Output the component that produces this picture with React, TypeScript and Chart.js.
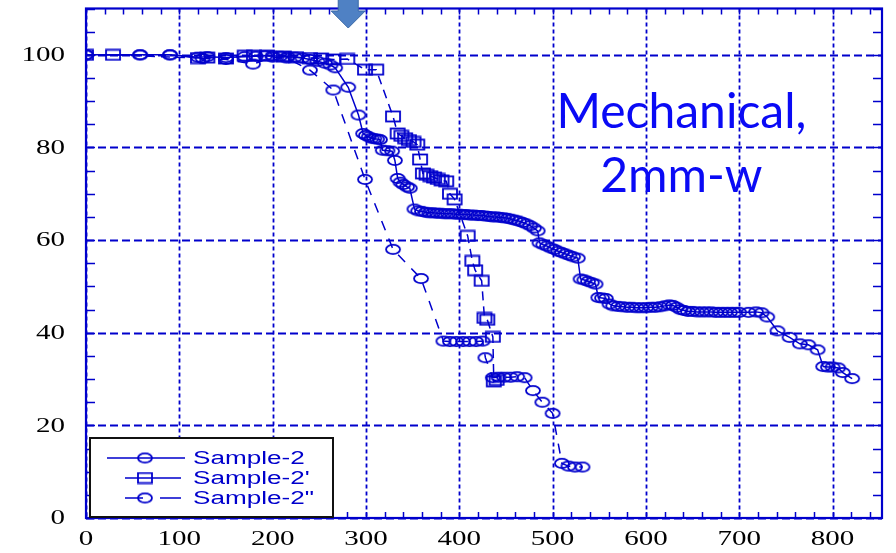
import React, { useEffect, useRef } from "react";
import { Chart, registerables } from "chart.js";
Chart.register(...registerables);

const X_TICKS = [0, 100, 200, 300, 400, 500, 600, 700, 800];
const Y_TICKS = [0, 20, 40, 60, 80, 100];
const X_MAX = 853;
const Y_MAX = 110;
const SERIES_NAMES = ["Sample-2", "Sample-2'", 'Sample-2"'];
const TITLE_LINES = ["Mechanical,", "2mm-w"];
const ARROW_X = 281;

const SAMPLE_2: [number, number][] = [
  [0, 100], [58, 100], [90, 100], [120, 99.5], [130, 99.6], [150, 99.4], [170, 99.6], [182, 99.7],
  [192, 99.8], [200, 99.8], [208, 99.7], [216, 99.6], [224, 99.5], [232, 99.3], [240, 99], [248, 98.6],
  [256, 98.2], [262, 97.8], [267, 97.2], [281, 93], [292, 87], [297, 83], [300, 82.6], [303, 82.3],
  [306, 82], [309, 81.9], [312, 81.8], [315, 81.7], [318, 79.4], [323, 79.3], [328, 79.2], [331, 77.2],
  [334, 73.3], [337, 72.5], [340, 72], [344, 71.5], [347, 71.2], [352, 66.7], [356, 66.3], [360, 66.2],
  [364, 66], [368, 65.9], [372, 65.9], [376, 65.8], [380, 65.8], [384, 65.7], [388, 65.7], [392, 65.7],
  [396, 65.6], [400, 65.6], [404, 65.5], [408, 65.5], [412, 65.4], [416, 65.4], [420, 65.3], [424, 65.3],
  [428, 65.2], [432, 65.1], [436, 65], [440, 65], [444, 64.9], [448, 64.8], [452, 64.7], [456, 64.5],
  [460, 64.3], [464, 64.1], [468, 63.8], [472, 63.5], [476, 63.1], [480, 62.6], [484, 62], [486, 59.4],
  [490, 59], [494, 58.7], [498, 58.3], [502, 58], [506, 57.6], [510, 57.3], [514, 57], [518, 56.7],
  [522, 56.4], [527, 56.1], [530, 51.6], [534, 51.4], [538, 51.1], [542, 50.8], [546, 50.5], [549, 47.6],
  [553, 47.5], [557, 47.4], [561, 46.2], [565, 45.8], [570, 45.7], [575, 45.6], [580, 45.5], [585, 45.5],
  [590, 45.4], [595, 45.4], [600, 45.4], [605, 45.5], [610, 45.5], [615, 45.6], [620, 45.8], [625, 46],
  [629, 45.9], [633, 45.5], [637, 45], [641, 44.8], [645, 44.6], [650, 44.6], [655, 44.5], [660, 44.5],
  [665, 44.5], [670, 44.5], [675, 44.4], [680, 44.4], [685, 44.4], [690, 44.4], [695, 44.4], [700, 44.4],
  [710, 44.4], [718, 44.5], [724, 44.3], [730, 43.4], [741, 40.4], [754, 39], [765, 37.6], [774, 37.4],
  [784, 36.3], [790, 32.7], [795, 32.6], [800, 32.6], [806, 32.4], [811, 31.4], [821, 30.1],
];

const SAMPLE_2P: [number, number][] = [
  [0, 100], [29, 100], [120, 99.3], [130, 99.4], [150, 99.2], [170, 99.8], [180, 99.8], [194, 99.8],
  [212, 99.6], [225, 99.5], [240, 99.3], [252, 99.2], [265, 99], [280, 99.1], [299, 96.8], [311, 96.8],
  [329, 86.7], [334, 83], [338, 82.5], [342, 82], [346, 81.6], [351, 81.2], [355, 80.6], [358, 77.4],
  [361, 74.4], [365, 74.1], [369, 73.8], [373, 73.5], [377, 73.2], [381, 72.9], [386, 72.7], [390, 70],
  [395, 68.8], [409, 60.9], [414, 55.5], [417, 53.5], [424, 51.2], [427, 43.2], [430, 42.8], [436, 39.1],
  [437, 29.5], [440, 29.8],
];

const SAMPLE_2PP: [number, number][] = [
  [0, 100], [58, 100], [90, 100], [125, 99.2], [150, 99], [179, 98], [200, 99.5], [215, 99.3],
  [240, 96.7], [265, 92.4], [299, 73.1], [329, 58], [359, 51.7], [383, 38.2], [390, 38.1], [397, 38.1],
  [404, 38.1], [411, 38.1], [418, 38.1], [425, 38.2], [428, 34.6], [436, 30.3], [442, 30.4], [448, 30.4],
  [455, 30.4], [462, 30.5], [470, 30.3], [479, 27.5], [489, 25], [500, 22.6], [510, 11.8], [517, 11.2],
  [524, 11], [532, 11],
];

const BLUE = "#0000cc";
const TITLE_BLUE = "#0a0af5";

function makeMarker(kind: "ellipse" | "rect"): HTMLCanvasElement {
  const c = document.createElement("canvas");
  c.width = 18;
  c.height = 13;
  const g = c.getContext("2d")!;
  g.strokeStyle = BLUE;
  g.lineWidth = 1.8;
  if (kind === "ellipse") {
    g.beginPath();
    g.ellipse(9, 6.5, 7, 4.6, 0, 0, Math.PI * 2);
    g.stroke();
  } else {
    g.strokeRect(2, 1.5, 14, 10);
  }
  return c;
}

function stretched(ctx: CanvasRenderingContext2D, text: string, x: number, y: number, sx: number, align: CanvasTextAlign) {
  ctx.save();
  ctx.translate(x, y);
  ctx.scale(sx, 1);
  ctx.textAlign = align;
  ctx.fillText(text, 0, 0);
  ctx.restore();
}

export default function App() {
  const ref = useRef<HTMLCanvasElement | null>(null);

  useEffect(() => {
    document.body.style.margin = "0";
    const canvas = ref.current!;
    const ellipse = makeMarker("ellipse");
    const rect = makeMarker("rect");

    const framePlugin = {
      id: "framePlugin",
      beforeDatasetsDraw(chart: any) {
        const { ctx, chartArea: a } = chart;
        const xs = chart.scales.x;
        const ys = chart.scales.y;
        ctx.save();
        ctx.strokeStyle = BLUE;
        ctx.lineWidth = 1.8;
        ctx.setLineDash([4, 3]);
        X_TICKS.forEach((v) => {
          const px = Math.round(xs.getPixelForValue(v)) + 0.5;
          ctx.beginPath();
          ctx.moveTo(px, a.top);
          ctx.lineTo(px, a.bottom);
          ctx.stroke();
        });
        ctx.setLineDash([8, 4]);
        Y_TICKS.forEach((v) => {
          const py = Math.round(ys.getPixelForValue(v)) + 0.5;
          ctx.beginPath();
          ctx.moveTo(a.left, py);
          ctx.lineTo(a.right, py);
          ctx.stroke();
        });
        ctx.setLineDash([]);
        ctx.lineWidth = 1.5;
        for (let v = 0; v <= X_MAX; v += 20) {
          const px = Math.round(xs.getPixelForValue(v)) + 0.5;
          ctx.beginPath();
          ctx.moveTo(px, a.top);
          ctx.lineTo(px, a.top + 6);
          ctx.moveTo(px, a.bottom);
          ctx.lineTo(px, a.bottom - 6);
          ctx.stroke();
        }
        for (let v = 0; v <= Y_MAX; v += 5) {
          const py = Math.round(ys.getPixelForValue(v)) + 0.5;
          ctx.beginPath();
          ctx.moveTo(a.left, py);
          ctx.lineTo(a.left + 9, py);
          ctx.moveTo(a.right, py);
          ctx.lineTo(a.right - 9, py);
          ctx.stroke();
        }
        ctx.lineWidth = 2.2;
        ctx.strokeRect(a.left, a.top, a.right - a.left, a.bottom - a.top);
        ctx.restore();
      },
      afterDatasetsDraw(chart: any) {
        const { ctx, chartArea: a } = chart;
        const xs = chart.scales.x;
        const ys = chart.scales.y;
        ctx.save();
        ctx.fillStyle = "#000";
        ctx.font = '20px "Liberation Serif"';
        ctx.textBaseline = "middle";
        Y_TICKS.forEach((v) => {
          stretched(ctx, String(v), a.left - 21, ys.getPixelForValue(v) + 1, 1.45, "right");
        });
        X_TICKS.forEach((v) => {
          stretched(ctx, String(v), xs.getPixelForValue(v), a.bottom + 22, 1.45, "center");
        });

        // legend
        const x0 = a.left + 4;
        const y0 = a.bottom - 80;
        ctx.fillStyle = "#fff";
        ctx.fillRect(x0, y0, 243, 79);
        ctx.strokeStyle = "#111";
        ctx.lineWidth = 2;
        ctx.strokeRect(x0, y0, 243, 79);
        ctx.strokeStyle = BLUE;
        ctx.lineWidth = 1.5;
        const rows = [y0 + 20, y0 + 40, y0 + 60];
        const mx = x0 + 55;
        ctx.beginPath();
        ctx.moveTo(x0 + 17, rows[0]);
        ctx.lineTo(x0 + 95, rows[0]);
        ctx.moveTo(x0 + 35, rows[1]);
        ctx.lineTo(x0 + 91, rows[1]);
        ctx.moveTo(x0 + 35, rows[2]);
        ctx.lineTo(x0 + 53, rows[2]);
        ctx.moveTo(x0 + 70, rows[2]);
        ctx.lineTo(x0 + 91, rows[2]);
        ctx.stroke();
        ctx.drawImage(ellipse, mx - 9, rows[0] - 6.5);
        ctx.drawImage(rect, mx - 9, rows[1] - 6.5);
        ctx.drawImage(ellipse, mx - 9, rows[2] - 6.5);
        ctx.fillStyle = BLUE;
        ctx.font = '18px "Liberation Sans"';
        ctx.textBaseline = "middle";
        SERIES_NAMES.forEach((n, i) => stretched(ctx, n, x0 + 103, rows[i] + 1, 1.45, "left"));

        // title annotation
        ctx.fillStyle = TITLE_BLUE;
        ctx.font = '48px Lato';
        ctx.textAlign = "center";
        ctx.textBaseline = "alphabetic";
        const tx = a.left + (a.right - a.left) * 0.748;
        ctx.fillText(TITLE_LINES[0], tx, 128);
        ctx.fillText(TITLE_LINES[1], tx, 192);

        // arrow
        const ax = xs.getPixelForValue(ARROW_X);
        ctx.beginPath();
        ctx.moveTo(ax - 10, -2);
        ctx.lineTo(ax + 10, -2);
        ctx.lineTo(ax + 10, 11);
        ctx.lineTo(ax + 17, 11);
        ctx.lineTo(ax, 28);
        ctx.lineTo(ax - 17, 11);
        ctx.lineTo(ax - 10, 11);
        ctx.closePath();
        ctx.fillStyle = "#4f81c4";
        ctx.fill();
        ctx.strokeStyle = "#3a68a6";
        ctx.lineWidth = 1;
        ctx.stroke();
        ctx.restore();
      },
    };

    const toPts = (arr: [number, number][]) => arr.map(([x, y]) => ({ x, y }));

    const chart = new Chart(canvas, {
      type: "scatter",
      data: {
        datasets: [
          {
            label: SERIES_NAMES[0],
            data: toPts(SAMPLE_2),
            showLine: true,
            borderColor: BLUE,
            borderWidth: 1.5,
            pointStyle: ellipse as any,
            pointRadius: 7,
          },
          {
            label: SERIES_NAMES[1],
            data: toPts(SAMPLE_2P),
            showLine: true,
            borderColor: BLUE,
            borderWidth: 1.5,
            borderDash: [9, 6],
            pointStyle: rect as any,
            pointRadius: 7,
          },
          {
            label: SERIES_NAMES[2],
            data: toPts(SAMPLE_2PP),
            showLine: true,
            borderColor: BLUE,
            borderWidth: 1.5,
            borderDash: [10, 9],
            pointStyle: ellipse as any,
            pointRadius: 7,
          },
        ],
      },
      options: {
        responsive: false,
        animation: false,
        layout: { padding: { left: 0, right: 14, top: 6, bottom: 0 } },
        plugins: { legend: { display: false }, tooltip: { enabled: false } },
        scales: {
          x: {
            type: "linear",
            min: 0,
            max: X_MAX,
            ticks: { display: false, stepSize: 100, includeBounds: false },
            grid: { display: false },
            border: { display: false },
            afterFit: (s: any) => {
              s.height = 35;
            },
          },
          y: {
            type: "linear",
            min: 0,
            max: Y_MAX,
            ticks: { display: false, stepSize: 20, includeBounds: false },
            grid: { display: false },
            border: { display: false },
            afterFit: (s: any) => {
              s.width = 86;
            },
          },
        },
      },
      plugins: [framePlugin],
    });
    return () => chart.destroy();
  }, []);

  return (
    <div style={{ width: 896, height: 553, background: "#fff" }}>
      <canvas ref={ref} width={896} height={553} style={{ display: "block" }} />
    </div>
  );
}
